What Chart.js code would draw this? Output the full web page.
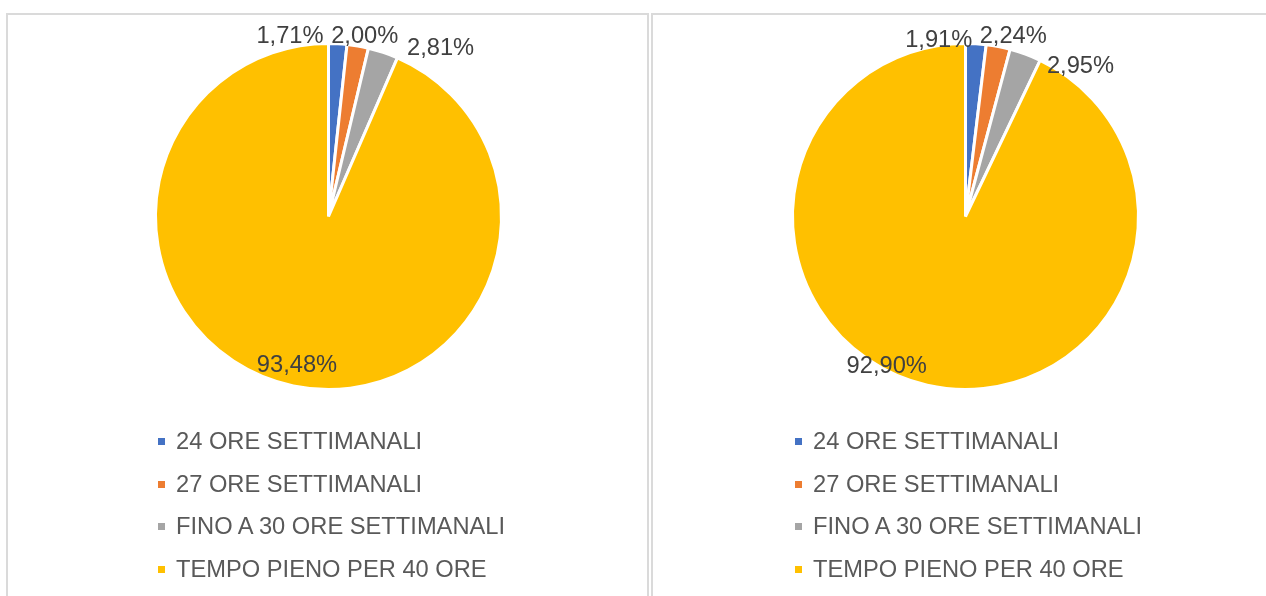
<!DOCTYPE html>
<html>
<head>
<meta charset="utf-8">
<script src="https://cdn.jsdelivr.net/npm/chart.js@4/dist/chart.umd.min.js"></script>
<style>
  html, body { margin: 0; padding: 0; background: #ffffff; width: 1266px; height: 596px; overflow: hidden; }
  body { position: relative; font-family: "Liberation Sans", Arial, sans-serif; }
  .panel { position: absolute; top: 13px; height: 700px; border: 2px solid #dadada; box-sizing: border-box; background: #fff; }
  canvas { position: absolute; top: 0; }
  .leg { position: absolute; height: 30px; line-height: 30px; font-size: 23.7px; color: #595959; white-space: nowrap; }
  .leg .box { position: absolute; width: 7px; height: 7px; top: 12px; }
  .leg .txt { position: absolute; top: 0; }
</style>
</head>
<body>
<div class="panel" style="left:6px; width:643px;"></div>
<div class="panel" style="left:651px; width:700px;"></div>
<canvas id="c1" width="441" height="433" style="left:108px;"></canvas>
<canvas id="c2" width="441" height="433" style="left:745px;"></canvas>
<div id="legends"></div>
<script>
// ---- data ----
const categories = ["24 ORE SETTIMANALI", "27 ORE SETTIMANALI", "FINO A 30 ORE SETTIMANALI", "TEMPO PIENO PER 40 ORE"];
const valuesLeft = [1.71, 2.00, 2.81, 93.48];
const valuesRight = [1.91, 2.24, 2.95, 92.90];
const sliceColors = ["#4472C4", "#ED7D31", "#A5A5A5", "#FFC000"];

function fmtPct(v) { return v.toFixed(2).replace('.', ',') + '%'; }

const sliceLabels = {
  id: 'sliceLabels',
  afterDatasetsDraw(chart, args, opts) {
    const ctx = chart.ctx;
    const meta = chart.getDatasetMeta(0);
    const data = chart.data.datasets[0].data;
    ctx.save();
    ctx.font = opts.font;
    ctx.fillStyle = opts.color;
    ctx.textAlign = 'center';
    ctx.textBaseline = 'middle';
    meta.data.forEach((arc, i) => {
      const p = arc.getProps(['x', 'y', 'startAngle', 'endAngle', 'outerRadius'], true);
      const mid = (p.startAngle + p.endAngle) / 2;
      const v = data[i];
      const R = v > 50 ? p.outerRadius * opts.insideRatio : p.outerRadius + opts.outsidePad;
      const off = opts.offsets[i] || [0, 0];
      ctx.fillText(fmtPct(v), p.x + Math.cos(mid) * R + off[0], p.y + Math.sin(mid) * R + off[1] + opts.shiftY);
    });
    ctx.restore();
  }
};

function makePie(id, values, offsets) {
  return new Chart(document.getElementById(id), {
    type: 'pie',
    data: {
      labels: categories,
      datasets: [{
        data: values,
        backgroundColor: sliceColors,
        borderColor: '#ffffff',
        borderWidth: 3
      }]
    },
    options: {
      responsive: false,
      animation: false,
      radius: 173,
      layout: { padding: 0 },
      plugins: {
        legend: { display: false },
        tooltip: { enabled: false },
        title: { display: false },
        sliceLabels: {
          font: '23.7px "Liberation Sans", Arial, sans-serif',
          color: '#404040',
          outsidePad: 16.5,
          insideRatio: 0.8676,
          shiftY: 3.5,
          offsets: offsets
        }
      }
    },
    plugins: [sliceLabels]
  });
}

makePie('c1', valuesLeft, [[-48.7, 5.3], [4.1, 2.9], [52.2, 7.9], [-1, -1.5]]);
makePie('c2', valuesRight, [[-38.1, 10], [11.9, 2.2], [49.4, 24.6], [-45.6, 0]]);

// ---- HTML legends ----
const legendHost = document.getElementById('legends');
const legendLefts = [158, 795];
const rowTop0 = 426, rowStep = 42.5;
legendLefts.forEach(lx => {
  categories.forEach((cat, i) => {
    const row = document.createElement('div');
    row.className = 'leg';
    row.style.left = lx + 'px';
    row.style.top = (rowTop0 + i * rowStep) + 'px';
    const box = document.createElement('span');
    box.className = 'box';
    box.style.left = '0px';
    box.style.background = sliceColors[i];
    const txt = document.createElement('span');
    txt.className = 'txt';
    txt.style.left = '18px';
    txt.textContent = cat;
    row.appendChild(box);
    row.appendChild(txt);
    legendHost.appendChild(row);
  });
});
</script>
</body>
</html>
